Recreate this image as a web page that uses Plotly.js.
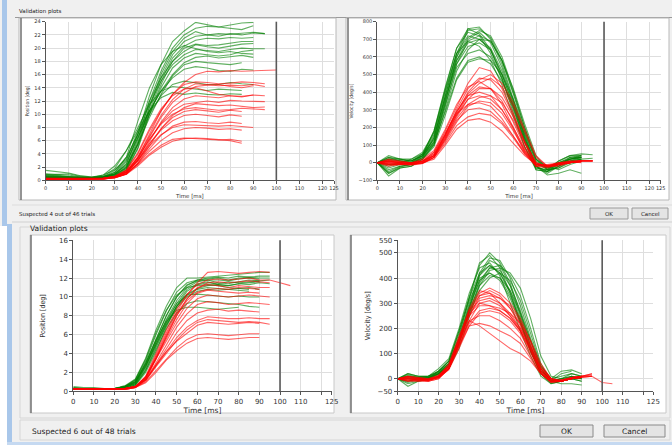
<!DOCTYPE html>
<html><head><meta charset="utf-8">
<script src="https://cdn.plot.ly/plotly-3.0.1.min.js"></script>
<style>html,body{margin:0;padding:0;background:#f0f0f0;}#chart{width:672px;height:445px;}</style>
</head><body><div id="chart"></div>
<script>
// time samples (ms)
const T = [0,5,10,15,20,25,30,35,40,45,50,55,60,65,70,75,80,85,90,95,100,105];

// ---- Top dialog: Position [deg] ----
const posTopGreen = [
 [1.5,1.3,1.1,0.7,0.5,0.6,1.0,2.4,7.0,12.8,17.5,21.0,22.6,23.9,23.6,23.2,23.5,23.8,23.9],
 [1.0,0.9,0.8,0.5,0.4,0.5,0.8,2.0,6.2,12.0,16.5,20.0,22.0,23.0,23.3,23.2,23.0,22.8,23.4],
 [0.8,0.9,1.0,0.6,0.4,0.5,0.9,1.8,5.5,11.0,15.5,19.0,21.0,21.8,22.0,22.2,22.1,22.3,22.4,22.2],
 [0.7,0.6,0.5,0.4,0.3,0.4,0.7,1.6,5.0,10.5,15.0,18.5,20.3,21.2,21.5,21.4,21.6,21.5,21.6],
 [0.6,0.5,0.5,0.4,0.3,0.4,0.6,1.5,4.8,10.0,14.5,18.0,20.0,20.6,20.4,20.5,20.8,21.0,21.0],
 [0.5,0.5,0.4,0.3,0.3,0.5,1.2,3.0,7.5,12.0,15.5,18.0,19.5,20.5,20.2,20.0,20.3,20.6,20.7],
 [0.9,0.7,0.6,0.5,0.5,0.8,1.6,3.2,7.0,11.5,15.0,17.5,19.0,19.8,19.6,19.5,19.8,20.0,19.9,19.9],
 [0.4,0.4,0.3,0.3,0.3,0.4,0.7,1.8,5.5,10.0,14.0,17.0,18.5,19.2,19.0,18.8,19.0,19.5,19.7],
 [0.4,0.5,0.4,0.3,0.3,0.4,0.9,2.5,6.5,10.5,13.5,16.0,17.8,18.6,18.8,18.5,18.7,18.9,18.6],
 [0.5,0.4,0.4,0.3,0.3,0.5,1.0,2.2,5.5,9.5,13.0,15.8,17.5,18.0,17.8,17.6,17.5,17.8],
 [0.3,0.4,0.3,0.3,0.3,0.5,1.5,3.5,7.0,10.5,13.5,15.5,16.8,17.2,17.0,16.6,16.5,16.8,16.7],
 [0.3,0.3,0.3,0.3,0.3,0.4,1.0,2.8,6.5,10.0,12.8,14.5,15.0,14.8,14.5,14.5,14.8,14.6,14.5],
 [0.6,0.5,0.4,0.4,0.4,0.6,1.8,4.5,8.0,11.5,13.5,14.2,14.0,13.8,13.6,13.8,13.7,13.6],
 [0.3,0.3,0.3,0.3,0.4,0.8,2.2,4.5,7.5,10.5,12.5,13.3,13.0,13.2,13.0,12.9,13.1,13.0],
 [0.8,0.7,0.5,0.4,0.3,0.4,0.8,2.0,5.8,11.2,16.0,19.5,21.5,22.5,22.0,21.8,22.2,22.0,22.3,22.2],
 [0.5,0.4,0.4,0.3,0.3,0.5,1.2,3.5,9.0,14.0,17.5,19.5,20.4,20.0,19.5,19.3,19.5,19.2,19.1]
];
const posTopRed = [
 [0.2,0.2,0.2,0.2,0.2,0.3,0.5,1.2,3.5,7.0,10.5,13.0,14.8,16.0,16.5,16.4,16.6,16.5,16.6,16.6,16.7],
 [0.3,0.3,0.2,0.2,0.2,0.3,0.6,1.5,4.0,7.5,10.5,13.0,14.5,14.9,14.8,14.6,14.7,14.9,14.8,14.6],
 [0.2,0.2,0.2,0.2,0.2,0.2,0.5,1.3,3.6,6.8,9.8,12.2,13.8,14.6,14.5,14.3,14.4,14.3,14.5,14.2],
 [0.1,0.1,0.1,0.1,0.1,0.2,0.4,1.0,3.2,6.5,9.5,11.8,13.2,14.2,14.4,14.5,14.2,14.0,14.3],
 [0.2,0.2,0.2,0.2,0.2,0.3,0.5,1.2,3.0,6.0,8.8,11.0,12.3,12.8,12.7,12.5,12.8,12.6,12.9,12.8],
 [0.3,0.2,0.2,0.2,0.2,0.3,0.6,1.4,3.4,6.2,8.6,10.5,11.5,11.8,12.0,11.8,12.1,12.0,11.9,11.9],
 [0.1,0.1,0.1,0.1,0.1,0.2,0.4,0.9,2.6,5.2,7.8,9.8,11.0,11.6,11.5,11.3,11.4,11.2,11.0,11.1],
 [0.2,0.2,0.2,0.2,0.2,0.3,0.5,1.1,2.9,5.5,7.8,9.5,10.4,10.7,10.5,10.3,10.6,10.4],
 [0.2,0.2,0.2,0.2,0.2,0.3,0.5,1.2,3.1,5.6,7.6,9.0,9.8,10.0,9.8,9.6,9.9,9.7],
 [0.1,0.1,0.1,0.1,0.1,0.2,0.4,1.0,2.6,4.8,6.8,8.2,8.8,8.9,8.7,8.6,8.8,8.6],
 [0.2,0.2,0.2,0.2,0.2,0.3,0.6,1.3,3.0,5.2,6.9,8.0,8.4,8.3,8.2,8.2,8.3,8.1,8.0],
 [0.1,0.1,0.1,0.1,0.1,0.2,0.4,1.0,2.5,4.4,6.0,7.2,7.8,8.0,7.9,7.7,7.8,7.6],
 [0.2,0.2,0.2,0.2,0.2,0.2,0.5,1.0,2.4,4.0,5.3,6.2,6.4,6.3,6.2,6.1,6.2,5.9],
 [0.1,0.1,0.1,0.1,0.1,0.2,0.4,0.9,2.2,3.8,5.0,5.9,6.3,6.4,6.3,6.2,6.0,5.6],
 [0.3,0.3,0.2,0.2,0.2,0.3,0.6,1.6,4.2,7.8,10.8,12.8,13.8,14.0,13.5,13.0,12.8,12.7,12.9],
 [0.2,0.2,0.2,0.2,0.2,0.3,0.5,1.3,3.4,6.2,8.5,10.0,10.8,11.0,10.8,10.6,10.7,10.9,10.8,10.7]
];

// ---- Top dialog: Velocity [deg/s] ----
const velTopGreen = [
 [0,-60,-25,-10,30,140,380,620,760,770,700,560,360,160,-20,-50,-20,30,40],
 [0,-75,-30,-20,20,110,340,600,750,760,710,580,390,180,0,-40,-10,20,40],
 [0,-50,-20,-10,40,180,420,650,740,720,620,470,300,120,-30,-40,10,40,50,45],
 [0,-30,-10,0,50,160,400,620,720,700,640,500,320,120,-40,-50,0,30,30],
 [0,30,20,10,40,120,350,580,700,740,680,540,350,150,-10,-30,0,20,30],
 [0,40,20,20,60,170,410,620,690,660,580,440,260,90,-30,-40,10,40,40],
 [0,-20,0,20,50,130,360,560,660,680,640,500,330,140,-20,-60,-20,10,20],
 [0,10,10,0,30,100,300,520,640,700,690,580,400,200,20,-30,-10,10,30],
 [0,-40,-20,-10,30,120,330,540,620,640,600,480,310,130,-20,-50,-10,20],
 [0,20,20,10,40,110,290,480,580,600,560,460,320,160,10,-30,0,20,30],
 [0,-10,-10,0,20,90,270,470,570,590,580,500,360,180,20,-20,-40,-10,10],
 [0,30,10,0,40,150,370,580,680,700,650,520,340,140,-20,-70,-60,-40,-60],
 [0,-60,-30,-20,20,100,320,560,690,720,690,580,420,220,40,-40,-30,0,20,25],
 [0,20,10,10,50,180,430,650,760,730,640,480,280,90,-40,-50,-20,20,30],
 [0,-10,0,10,40,140,380,600,710,750,720,600,410,200,20,-40,-30,10,20]
];
const velTopRed = [
 [0,10,0,-10,10,60,180,320,450,540,520,420,280,120,0,-20,-10,0,10,10],
 [0,-10,-5,-10,0,40,160,300,420,480,470,400,270,110,-10,-20,-10,0,10,10],
 [0,20,10,0,20,70,190,330,430,460,420,330,200,70,-20,-30,-10,0,5],
 [0,-20,-10,-15,-5,30,140,270,380,430,420,350,230,90,-10,-20,0,10,10],
 [0,5,0,-5,5,50,160,290,380,400,380,300,190,60,-20,-10,0,5,0],
 [0,10,5,0,10,40,150,270,360,380,360,300,200,80,-10,-20,-10,0,10,10],
 [0,-5,-10,-10,0,30,120,230,320,350,340,280,180,70,-10,-20,-10,0,5],
 [0,0,-5,-5,10,60,170,280,330,340,320,250,150,50,-20,-20,0,5,5],
 [0,15,5,0,10,40,130,240,300,310,290,230,150,60,-10,-20,-10,0,5],
 [0,-10,-10,-5,0,30,110,210,260,280,270,220,140,50,-10,-15,-5,5,10],
 [0,5,0,-5,0,20,100,190,240,250,230,180,110,40,-10,-15,-5,0],
 [0,-5,0,-10,0,40,150,280,400,470,500,450,340,190,40,-20,-20,0,10,10],
 [0,10,0,0,10,50,160,290,390,450,480,430,320,170,30,-20,-10,0,10],
 [0,-15,-10,-10,-5,30,130,260,360,420,420,370,260,120,0,-20,-10,5,10,10],
 [0,0,-5,-5,5,40,140,250,330,370,380,340,240,110,0,-25,-10,5]
];

// ---- Bottom dialog: Position [deg] ----
const posBotGreen = [
 [0.5,0.4,0.4,0.3,0.3,0.6,1.3,3.5,6.5,9.0,11.0,12.0,12.0,12.1,12.2,12.3,12.4,12.5,12.6,12.6],
 [0.4,0.3,0.3,0.3,0.3,0.5,1.2,3.2,6.0,8.5,10.5,11.5,11.8,12.0,12.1,12.0,12.2,12.1,12.2,12.2],
 [0.3,0.3,0.3,0.2,0.3,0.5,1.0,3.0,5.6,8.0,10.0,11.3,11.7,11.8,11.8,11.7,11.9,12.0,11.9],
 [0.3,0.3,0.2,0.2,0.2,0.4,1.0,2.8,5.2,7.6,9.6,11.0,11.6,11.8,11.5,11.4,11.6,11.8,11.7,11.8],
 [0.2,0.2,0.2,0.2,0.2,0.4,0.9,2.6,5.0,7.3,9.3,10.8,11.4,11.6,11.3,11.2,11.4,11.5,11.6],
 [0.3,0.3,0.3,0.3,0.3,0.5,1.2,3.4,6.2,8.6,10.2,11.0,11.2,11.3,11.2,11.0,10.9,10.8],
 [0.4,0.3,0.3,0.2,0.2,0.4,0.8,2.4,4.8,7.0,8.8,10.0,10.6,10.8,10.7,10.8,10.9,11.0,10.8],
 [0.3,0.3,0.3,0.3,0.3,0.4,0.8,2.6,5.2,7.5,9.3,10.2,10.3,10.2,10.1,10.0,10.1,10.0,10.0],
 [0.2,0.2,0.2,0.2,0.2,0.3,0.7,2.2,4.4,6.6,8.3,9.3,9.6,9.5,9.4,9.3,9.2,9.0,8.9],
 [0.3,0.3,0.3,0.3,0.3,0.5,1.1,3.0,5.4,7.4,8.6,8.9,8.9,8.8,8.7,8.8,8.9],
 [0.3,0.3,0.2,0.2,0.2,0.4,0.9,2.9,5.5,8.0,10.0,11.2,11.8,11.9,12.0,11.8,12.0,12.1,12.0,12.0],
 [0.2,0.2,0.2,0.2,0.2,0.3,0.6,2.0,4.2,6.8,9.0,10.6,11.3,11.5,11.4,11.6,11.5,11.6,11.7],
 [0.3,0.3,0.3,0.3,0.3,0.5,1.0,2.7,5.0,7.2,9.0,10.2,10.8,11.0,10.9,10.8,10.7,10.6],
 [0.2,0.2,0.2,0.2,0.2,0.3,0.7,2.2,4.6,7.0,9.0,10.3,10.9,11.2,11.3,11.2,11.4,11.3,11.5,11.4]
];
const posBotRed = [
 [0.3,0.3,0.3,0.3,0.3,0.3,0.5,1.5,3.8,6.2,8.4,10.2,11.5,12.6,12.7,12.6,12.5,12.6,12.7,12.6],
 [0.3,0.3,0.3,0.3,0.3,0.3,0.5,1.6,4.0,6.5,8.7,10.3,11.3,11.8,11.9,11.8,11.9,12.0,11.8,11.8,11.5,11.2],
 [0.2,0.2,0.2,0.2,0.2,0.3,0.5,1.5,3.6,6.0,8.2,9.8,10.9,11.5,11.6,11.5,11.6,11.7,11.6,11.5],
 [0.2,0.2,0.2,0.2,0.2,0.2,0.4,1.3,3.4,5.8,8.0,9.8,11.0,11.3,11.2,11.0,11.2,11.1,11.0,11.0],
 [0.3,0.3,0.3,0.3,0.3,0.3,0.5,1.4,3.5,5.6,7.6,9.3,10.4,10.7,10.6,10.5,10.4,10.5,10.4],
 [0.2,0.2,0.2,0.2,0.2,0.3,0.5,1.5,3.4,5.3,7.2,8.8,9.8,10.2,10.1,10.0,10.1,10.2,10.1,10.0],
 [0.3,0.3,0.3,0.3,0.3,0.3,0.5,1.3,3.0,4.9,6.8,8.2,9.2,9.5,9.4,9.2,9.3,9.4,9.3,9.2],
 [0.2,0.2,0.2,0.2,0.2,0.2,0.4,1.2,2.8,4.5,6.2,7.5,8.3,8.6,8.7,8.5,8.6,8.5,8.4],
 [0.3,0.3,0.3,0.3,0.3,0.3,0.5,1.2,2.7,4.2,5.7,6.8,7.5,7.9,7.8,7.7,7.7,7.8,7.7,7.7],
 [0.2,0.2,0.2,0.2,0.2,0.2,0.4,1.1,2.6,4.0,5.4,6.5,7.3,7.6,7.5,7.4,7.3,7.4,7.3,7.1],
 [0.3,0.3,0.3,0.3,0.3,0.3,0.5,1.2,2.8,4.2,5.3,6.2,7.0,7.3,7.2,7.1,7.2,7.3,7.2],
 [0.2,0.2,0.2,0.2,0.2,0.3,0.4,1.0,2.2,3.4,4.6,5.5,6.0,6.1,6.0,5.9,6.0,6.1,6.1],
 [0.3,0.3,0.3,0.3,0.3,0.3,0.4,0.9,2.0,3.3,4.3,5.1,5.6,5.7,5.6,5.5,5.6,5.7,5.7],
 [0.2,0.2,0.2,0.2,0.2,0.2,0.4,1.4,3.5,5.8,8.0,9.6,10.5,10.8,10.9,10.8,11.0,10.9,10.8]
];

// ---- Bottom dialog: Velocity [deg/s] ----
const velBotGreen = [
 [0,20,10,5,20,60,170,320,450,500,460,380,260,130,30,0,10,20,10],
 [0,-20,-10,0,30,70,190,330,460,490,440,340,220,110,20,-10,0,10,0],
 [0,10,0,0,20,50,150,290,420,480,470,400,290,160,50,0,-10,0,-10],
 [0,-30,-10,-5,10,40,140,280,410,470,450,370,250,130,30,-10,0,10,0],
 [0,0,5,10,40,80,200,340,440,460,410,300,190,90,10,-20,-10,0,-10],
 [0,15,5,5,25,60,160,300,410,450,420,350,240,120,30,0,30,35,20],
 [0,-10,0,5,20,50,140,260,380,440,450,410,330,200,60,-10,-20,-20,-25],
 [0,10,10,10,30,70,180,310,400,420,390,320,220,110,20,-10,20,30],
 [0,5,0,0,20,50,140,270,370,410,400,350,260,150,40,-10,-10,0,5],
 [0,-15,-5,0,15,40,120,250,370,430,440,420,360,240,90,10,0,5,0],
 [0,20,10,10,30,70,190,320,420,450,420,340,230,110,20,-20,-10,0,10],
 [0,0,-5,0,20,50,150,280,390,440,430,370,270,150,40,-10,0,20,10],
 [0,-10,0,5,30,60,160,290,390,420,400,330,230,110,20,-15,-10,0,0],
 [0,10,5,10,25,55,150,260,350,400,420,390,310,180,50,0,-10,10,5]
];
const velBotRed = [
 [0,10,5,0,10,40,150,270,340,360,340,300,240,150,50,0,-10,0,5,10],
 [0,-10,-5,-10,10,50,160,280,350,340,300,250,190,110,30,-10,-10,0,5,10,-15,-20],
 [0,5,0,-5,5,40,140,250,320,330,320,290,230,140,40,0,-10,5,10,10],
 [0,0,-5,-5,10,60,170,270,310,320,300,260,200,120,30,-10,-5,5,10],
 [0,-5,-10,-10,0,40,130,230,300,310,290,250,200,130,40,-5,-10,0,10,15],
 [0,10,5,0,15,50,150,250,290,290,270,240,190,120,40,0,-10,0,5],
 [0,-10,-10,-5,5,40,130,220,270,280,270,240,190,110,20,-15,-10,0,10,20],
 [0,5,0,-5,10,50,150,230,250,250,230,200,160,90,20,-10,-5,5,10],
 [0,0,-5,-10,0,40,130,210,220,210,190,170,140,80,20,-15,-10,0,5],
 [0,-5,0,-5,5,40,140,230,210,180,150,120,100,70,20,-10,-5,0,5],
 [0,10,0,0,10,50,150,250,330,350,330,280,220,130,40,0,-5,0,10,10],
 [0,-5,-5,-5,5,50,160,270,330,340,320,280,210,120,30,-10,-10,5,10,20],
 [0,0,0,-5,10,45,150,260,300,290,280,260,220,150,60,0,-10,0,5],
 [0,5,0,-5,5,35,120,210,260,270,260,230,180,100,30,-10,-10,0,10]
];

// tick labels
const xTicksTop = [0,10,20,30,40,50,60,70,80,90,100,110,120,125];
const xTickTextTop = ['0','10','20','30','40','50','60','70','80','90','100','110','120','125'];
const xTickTextBot = ['0','10','20','30','40','50','60','70','80','90','100','110','','125'];
const yTicksVelBot = [-50,0,100,200,300,400,500,550];

const W = 672, H = 445;
const fx = p => p / W, fy = p => 1 - p / H;
const GREEN = 'rgba(0,128,0,0.62)', RED = 'rgba(255,0,0,0.6)';

const traces = [];
function addLines(sets, color, xa, ya) {
  sets.forEach(v => traces.push({
    type: 'scatter', mode: 'lines', x: T.slice(0, v.length), y: v,
    xaxis: xa, yaxis: ya, line: {color: color, width: 1.1},
    hoverinfo: 'skip', showlegend: false
  }));
}
addLines(posTopGreen, GREEN, 'x', 'y');   addLines(posTopRed, RED, 'x', 'y');
addLines(velTopGreen, GREEN, 'x2', 'y2'); addLines(velTopRed, RED, 'x2', 'y2');
addLines(posBotGreen, GREEN, 'x3', 'y3'); addLines(posBotRed, RED, 'x3', 'y3');
addLines(velBotGreen, GREEN, 'x4', 'y4'); addLines(velBotRed, RED, 'x4', 'y4');

const FONT = 'DejaVu Sans';
function xax(d0, d1, anchor, fs, ttext, stand) {
  return {domain: [fx(d0), fx(d1)], anchor: anchor, range: [0, 125], tickvals: xTicksTop, ticktext: ttext,
    tickangle: 0, showgrid: true, gridcolor: '#dedede', gridwidth: 1, zeroline: false, showline: true, linecolor: '#555', linewidth: 1,
    ticks: 'outside', ticklen: 3, tickcolor: '#555', tickfont: {family: FONT, size: fs, color: '#333'},
    title: {text: 'Time [ms]', font: {family: FONT, size: fs + 0.5, color: '#333'}, standoff: stand}, fixedrange: true};
}
function yax(d0, d1, anchor, range, fs, title, tick, stand) {
  const o = {domain: [fy(d1), fy(d0)], anchor: anchor, range: range, tickangle: 0,
    showgrid: true, gridcolor: '#dedede', gridwidth: 1, zeroline: false, showline: true, linecolor: '#555', linewidth: 1,
    ticks: 'outside', ticklen: 3, tickcolor: '#555', tickfont: {family: FONT, size: fs, color: '#333'},
    title: {text: title, font: {family: 'Liberation Sans Narrow, DejaVu Sans Condensed, DejaVu Sans', size: fs, color: '#333'}, standoff: stand}, fixedrange: true};
  if (Array.isArray(tick)) o.tickvals = tick; else o.dtick = tick;
  return o;
}

const shapes = [];
function rect(x0, y0, x1, y1, fill, line, lw) {
  shapes.push({type: 'rect', xref: 'paper', yref: 'paper', x0: fx(x0), x1: fx(x1), y0: fy(y1), y1: fy(y0),
    fillcolor: fill, line: {color: line || 'rgba(0,0,0,0)', width: lw || 0}, layer: 'below'});
}
function hline(x0, x1, y, color, w) {
  shapes.push({type: 'line', xref: 'paper', yref: 'paper', x0: fx(x0), x1: fx(x1), y0: fy(y), y1: fy(y), line: {color: color, width: w}, layer: 'below'});
}
function vline(x, y0, y1, color, w) {
  shapes.push({type: 'line', xref: 'paper', yref: 'paper', x0: fx(x), x1: fx(x), y0: fy(y0), y1: fy(y1), line: {color: color, width: w}, layer: 'below'});
}
// backgrounds
rect(0, 0, 672, 222, '#f0f0f0');
rect(0, 222, 672, 445, '#f0f0f0');
rect(2, 0, 7, 226, '#a9c7ea');
rect(0, 226, 7, 445, '#ffffff');
rect(7, 224, 12, 442, '#a9c7ea');
rect(7, 442, 672, 445, '#c5d9f1');
// top group
hline(15, 672, 17.5, '#9a9a9a', 1);
rect(19, 18, 336, 200, '#ffffff', '#b8b8b8', 1);
rect(346, 18, 669, 200, '#ffffff', '#b8b8b8', 1);
vline(21, 18, 200, '#707070', 1.5);
vline(348, 18, 200, '#707070', 1.5);
hline(12, 672, 205, '#dcdcdc', 1);
hline(12, 672, 222, '#d0d0d0', 1);
// buttons top
rect(590, 208, 628, 219, '#e4e4e4', '#9a9a9a', 1);
rect(632, 208, 668, 219, '#e4e4e4', '#9a9a9a', 1);
// bottom group
rect(20, 227, 670, 418, '#f0f0f0', '#d6d6d6', 1);
rect(30, 235, 334, 413, '#ffffff', '#c8c8c8', 1);
rect(350, 235, 666, 413, '#ffffff', '#c8c8c8', 1);
vline(31, 235, 413, '#707070', 1.5);
vline(351, 235, 413, '#707070', 1.5);
rect(20, 420, 670, 440, '#f0f0f0', '#d6d6d6', 1);
rect(540, 425, 593, 437, '#e4e4e4', '#8a8a8a', 1);
rect(604, 425, 665, 437, '#e4e4e4', '#8a8a8a', 1);
// x = 100 markers
[['x', 'y'], ['x2', 'y2'], ['x3', 'y3'], ['x4', 'y4']].forEach(([xa, ya]) => {
  shapes.push({type: 'line', xref: xa, yref: ya + ' domain', x0: 100, x1: 100, y0: 0, y1: 1, line: {color: '#5a5a5a', width: 1.6}, layer: 'above'});
});

const annotations = [];
function txt(x, y, s, size, anchor) {
  annotations.push({xref: 'paper', yref: 'paper', x: fx(x), y: fy(y), text: s, showarrow: false,
    xanchor: anchor || 'left', yanchor: 'middle', font: {family: FONT, size: size, color: '#222'}});
}
txt(17, 11, 'Validation plots', 5.5);
txt(17, 214, 'Suspected 4 out of 46 trials', 5.5);
txt(609, 213.5, 'OK', 5.5, 'center');
txt(650, 213.5, 'Cancel', 5.5, 'center');
txt(28, 229, 'Validation plots', 7.5);
txt(30, 431, 'Suspected 6 out of 48 trials', 7.5);
txt(566.5, 431, 'OK', 7.5, 'center');
txt(634.5, 431, 'Cancel', 7.5, 'center');

const layout = {
  width: W, height: H, margin: {l: 0, r: 0, t: 0, b: 0},
  paper_bgcolor: '#f0f0f0', plot_bgcolor: 'rgba(0,0,0,0)', showlegend: false,
  xaxis: xax(45.7, 334, 'y', 5, xTickTextTop, 3),
  yaxis: yax(21.7, 180.3, 'x', [0, 24], 5, 'Position [deg]', 2, 4),
  xaxis2: xax(377.3, 660.7, 'y2', 5, xTickTextTop, 3),
  yaxis2: yax(21.7, 180.3, 'x2', [-100, 800], 5, 'Velocity [deg/s]', 100, 4),
  xaxis3: xax(73.3, 331.7, 'y3', 7, xTickTextBot, 3),
  yaxis3: yax(240.3, 391.3, 'x3', [0, 16], 7, 'Position [deg]', 2, 12),
  xaxis4: xax(397.7, 653.3, 'y4', 7, xTickTextBot, 3),
  yaxis4: yax(240.3, 391.3, 'x4', [-50, 550], 7, 'Velocity [deg/s]', yTicksVelBot, 6),
  shapes: shapes, annotations: annotations
};
Plotly.newPlot('chart', traces, layout, {staticPlot: true, displayModeBar: false});
</script></body></html>
